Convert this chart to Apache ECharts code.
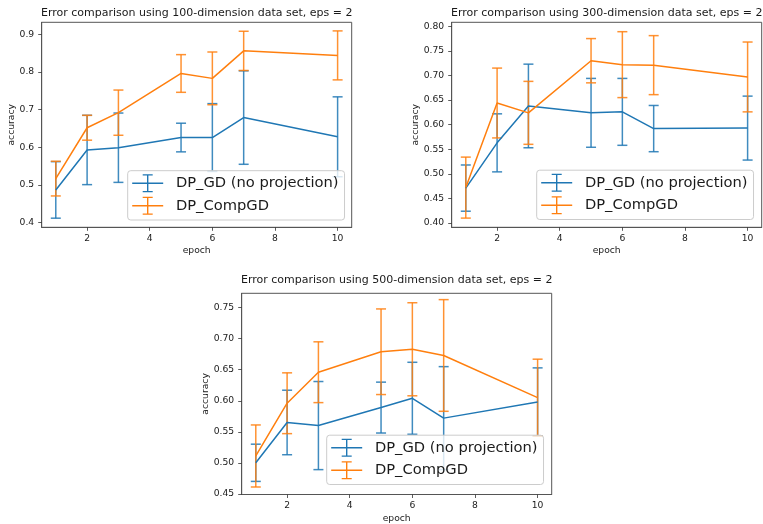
<!DOCTYPE html>
<html><head><meta charset="utf-8">
<script src="https://cdn.jsdelivr.net/npm/echarts@6/dist/echarts.min.js"></script>
<style>html,body{margin:0;padding:0;background:#fff}#c{width:763px;height:524px}</style>
</head><body><div id="c"></div>
<script>
// ---------- data ----------
const epochs = [1, 2, 3, 5, 6, 7, 10];
const seriesNames = ['DP_GD (no projection)', 'DP_CompGD'];
const titles = [
  'Error comparison using 100-dimension data set, eps = 2',
  'Error comparison using 300-dimension data set, eps = 2',
  'Error comparison using 500-dimension data set, eps = 2'
];
const xName = 'epoch';
const yName = 'accuracy';

const gd100      = [0.487, 0.593, 0.599, 0.626, 0.626, 0.679, 0.628];
const gd100Err   = [0.075, 0.092, 0.092, 0.038, 0.090, 0.124, 0.106];
const comp100    = [0.517, 0.652, 0.692, 0.796, 0.783, 0.856, 0.844];
const comp100Err = [0.046, 0.033, 0.060, 0.050, 0.070, 0.052, 0.065];

const gd300      = [0.471, 0.563, 0.638, 0.624, 0.626, 0.592, 0.593];
const gd300Err   = [0.047, 0.059, 0.085, 0.070, 0.068, 0.047, 0.065];
const comp300    = [0.472, 0.644, 0.624, 0.730, 0.722, 0.721, 0.697];
const comp300Err = [0.062, 0.071, 0.064, 0.045, 0.067, 0.060, 0.071];

const gd500      = [0.500, 0.565, 0.560, 0.589, 0.604, 0.572, 0.598];
const gd500Err   = [0.030, 0.052, 0.071, 0.041, 0.058, 0.083, 0.055];
const comp500    = [0.511, 0.596, 0.646, 0.679, 0.683, 0.673, 0.605];
const comp500Err = [0.050, 0.049, 0.049, 0.069, 0.075, 0.090, 0.062];

const xTicks    = [2, 4, 6, 8, 10];
const yTicks100 = [0.4, 0.5, 0.6, 0.7, 0.8, 0.9];
const yTicks300 = [0.40, 0.45, 0.50, 0.55, 0.60, 0.65, 0.70, 0.75, 0.80];
const yTicks500 = [0.45, 0.50, 0.55, 0.60, 0.65, 0.70, 0.75];

// ---------- layout / style ----------
const BLUE = '#1f77b4', ORANGE = '#ff7f0e';
const FONT = 'DejaVu Sans';
const TXT = '#1a1a1a';
const SPINE = '#555';
const panelData = [
  { gd: gd100, gdErr: gd100Err, comp: comp100, compErr: comp100Err, yTicks: yTicks100, dec: 1 },
  { gd: gd300, gdErr: gd300Err, comp: comp300, compErr: comp300Err, yTicks: yTicks300, dec: 2 },
  { gd: gd500, gdErr: gd500Err, comp: comp500, compErr: comp500Err, yTicks: yTicks500, dec: 2 }
];
const layout = [
  { left: 41.7,  top: 22.3,  width: 310, height: 205,   yMin: 0.3878, yMax: 0.9318, titleTop: 7.5,   yGap: 25, xGap: 18.5, lgLeft: 127.7, lgTop: 170.7 },
  { left: 451.7, top: 22.3,  width: 310, height: 205,   yMin: 0.3913, yMax: 0.8081, titleTop: 7.5,   yGap: 30, xGap: 18.5, lgLeft: 536.7, lgTop: 170.2 },
  { left: 241.7, top: 293.3, width: 310, height: 201.7, yMin: 0.4489, yMax: 0.7732, titleTop: 274.5, yGap: 30, xGap: 19.5, lgLeft: 326.7, lgTop: 435.2 }
];
const ERR_ICON = 'path://M0 8.3H31V9.7H0Z M14.8 0H16.2V18H14.8Z M10.5 0H20.5V1.2H10.5Z M10.5 16.8H20.5V18H10.5Z';

function errSeries(i, mean, err, color) {
  return {
    type: 'custom', name: 'err' + i + color, xAxisIndex: i, yAxisIndex: i,
    silent: true, clip: false,
    data: epochs.map((x, k) => [x, mean[k] - err[k], mean[k] + err[k]]),
    encode: { x: 0, y: [1, 2] },
    renderItem(params, api) {
      const top = api.coord([api.value(0), api.value(2)]);
      const bot = api.coord([api.value(0), api.value(1)]);
      const hw = 5;
      const style = { stroke: color, lineWidth: 1.5, opacity: 0.85 };
      return { type: 'group', children: [
        { type: 'line', shape: { x1: top[0], y1: top[1], x2: bot[0], y2: bot[1] }, style },
        { type: 'line', shape: { x1: top[0] - hw, y1: top[1], x2: top[0] + hw, y2: top[1] }, style },
        { type: 'line', shape: { x1: bot[0] - hw, y1: bot[1], x2: bot[0] + hw, y2: bot[1] }, style }
      ]};
    }
  };
}
function lineSeries(i, mean, color, name) {
  return {
    type: 'line', name, xAxisIndex: i, yAxisIndex: i,
    data: epochs.map((x, k) => [x, mean[k]]),
    symbol: 'none', showSymbol: false, silent: true,
    lineStyle: { color, width: 1.5 }, itemStyle: { color }
  };
}

const series = [];
panelData.forEach((d, i) => {
  series.push(errSeries(i, d.gd, d.gdErr, BLUE));
  series.push(lineSeries(i, d.gd, BLUE, seriesNames[0]));
  series.push(errSeries(i, d.comp, d.compErr, ORANGE));
  series.push(lineSeries(i, d.comp, ORANGE, seriesNames[1]));
});

const option = {
  animation: false,
  backgroundColor: '#fff',
  title: layout.map((L, i) => ({
    text: titles[i], left: L.left + L.width / 2, top: L.titleTop, textAlign: 'center', padding: 0,
    textStyle: { fontFamily: FONT, fontSize: 11, fontWeight: 'normal', color: TXT }
  })),
  grid: layout.map(L => ({
    left: L.left, top: L.top, width: L.width, height: L.height,
    show: true, borderColor: SPINE, borderWidth: 1, backgroundColor: 'transparent', containLabel: false
  })),
  xAxis: layout.map((L, i) => ({
    type: 'value', gridIndex: i, min: 0.55, max: 10.45,
    name: xName, nameLocation: 'middle', nameGap: L.xGap,
    nameTextStyle: { fontFamily: FONT, fontSize: 9.2, color: TXT },
    axisLine: { show: true, onZero: false, lineStyle: { color: SPINE, width: 1 } },
    splitLine: { show: false },
    axisTick: { show: true, length: 3.5, customValues: xTicks, lineStyle: { color: '#333', width: 0.8 } },
    axisLabel: { customValues: xTicks, fontFamily: FONT, fontSize: 9.2, color: TXT, margin: 6.5 }
  })),
  yAxis: layout.map((L, i) => ({
    type: 'value', gridIndex: i, min: L.yMin, max: L.yMax,
    name: yName, nameLocation: 'middle', nameGap: L.yGap,
    nameTextStyle: { fontFamily: FONT, fontSize: 9.2, color: TXT },
    axisLine: { show: true, onZero: false, lineStyle: { color: SPINE, width: 1 } },
    splitLine: { show: false },
    axisTick: { show: true, length: 3.5, customValues: panelData[i].yTicks, lineStyle: { color: '#333', width: 0.8 } },
    axisLabel: { customValues: panelData[i].yTicks, fontFamily: FONT, fontSize: 9.2, color: TXT, margin: 7.5,
      formatter: v => Number(v).toFixed(panelData[i].dec) }
  })),
  legend: layout.map((L, i) => ({
    left: L.lgLeft, top: L.lgTop, orient: 'vertical', selectedMode: false,
    data: seriesNames.map((n, j) => ({ name: n, icon: ERR_ICON,
      itemStyle: { color: j === 0 ? BLUE : ORANGE, borderWidth: 0, borderColor: 'transparent' } })),
    itemStyle: { borderWidth: 0, borderColor: 'transparent' },
    lineStyle: { width: 0 },
    itemWidth: 31, itemHeight: 18, itemGap: 4.4,
    padding: [3.6, 6, 5.3, 4.5],
    backgroundColor: 'rgba(255,255,255,0.8)', borderColor: '#cccccc', borderWidth: 1, borderRadius: 3,
    textStyle: { fontFamily: FONT, fontSize: 14.7, color: TXT, padding: [0, 0, 0, 7.7] }
  })),
  series
};

const chart = echarts.init(document.getElementById('c'), null, { renderer: 'canvas' });
chart.setOption(option);
</script>
</body></html>
